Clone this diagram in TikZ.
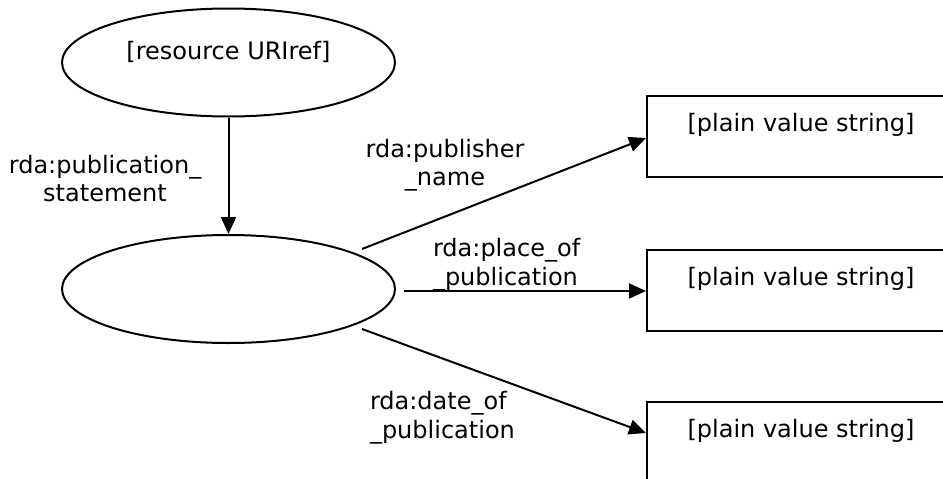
\documentclass[tikz,border=0pt]{standalone}
\usepackage{fontspec}
\setmainfont{DejaVu Sans}
\usetikzlibrary{shapes.geometric,arrows.meta}
\begin{document}
\begin{tikzpicture}[x=1pt,y=-1pt, line width=2pt,
  every node/.style={font=\fontsize{24}{28.5}\selectfont, inner sep=0pt},
  oval/.style={draw, ellipse, minimum width=333pt, minimum height=108pt},
  valbox/.style={draw, rectangle, minimum width=308pt, text height=17.9pt, text depth=28.9pt, inner xsep=0pt, inner ysep=17.1pt, anchor=north west},
  arc/.style={-{Triangle[length=17pt,width=15pt]}},
  lbl/.style={align=center},
  lbll/.style={align=left, anchor=west}]
\useasboundingbox (0,0) rectangle (943,479);
\clip (0,0) rectangle (943,479);
\node[oval, text height=17.9pt, text depth=24.9pt] (res) at (228.5,62.5) {[resource URIref]};
\node[oval] (blank) at (228.5,289) {};
\node[valbox] (v1) at (646,95) {[plain value string]};
\node[valbox] (v2) at (646,249) {[plain value string]};
\node[valbox] (v3) at (646,401) {[plain value string]};
\node[lbl] (l0) at (105,178.5) {rda:publication\_\\statement};
\node[lbl] (l1) at (445,165.3) {rda:publisher\\\_name};
\node[lbll] (l2) at (432,264.8) {rda:place\_of\\\_publication};
\node[lbll] (l3) at (369,417.8) {rda:date\_of\\\_publication};
\draw[arc] (res) -- (blank);
\draw[arc] ([shift={(133.5pt,40pt)}]blank.center) -- ([yshift=-43pt]v1.north west);
\draw[arc] ([xshift=8pt,yshift=-2pt]blank.east) -- ([yshift=-42pt]v2.north west);
\draw[arc] ([shift={(133.5pt,-40pt)}]blank.center) -- ([yshift=-32pt]v3.north west);
\end{tikzpicture}
\end{document}
